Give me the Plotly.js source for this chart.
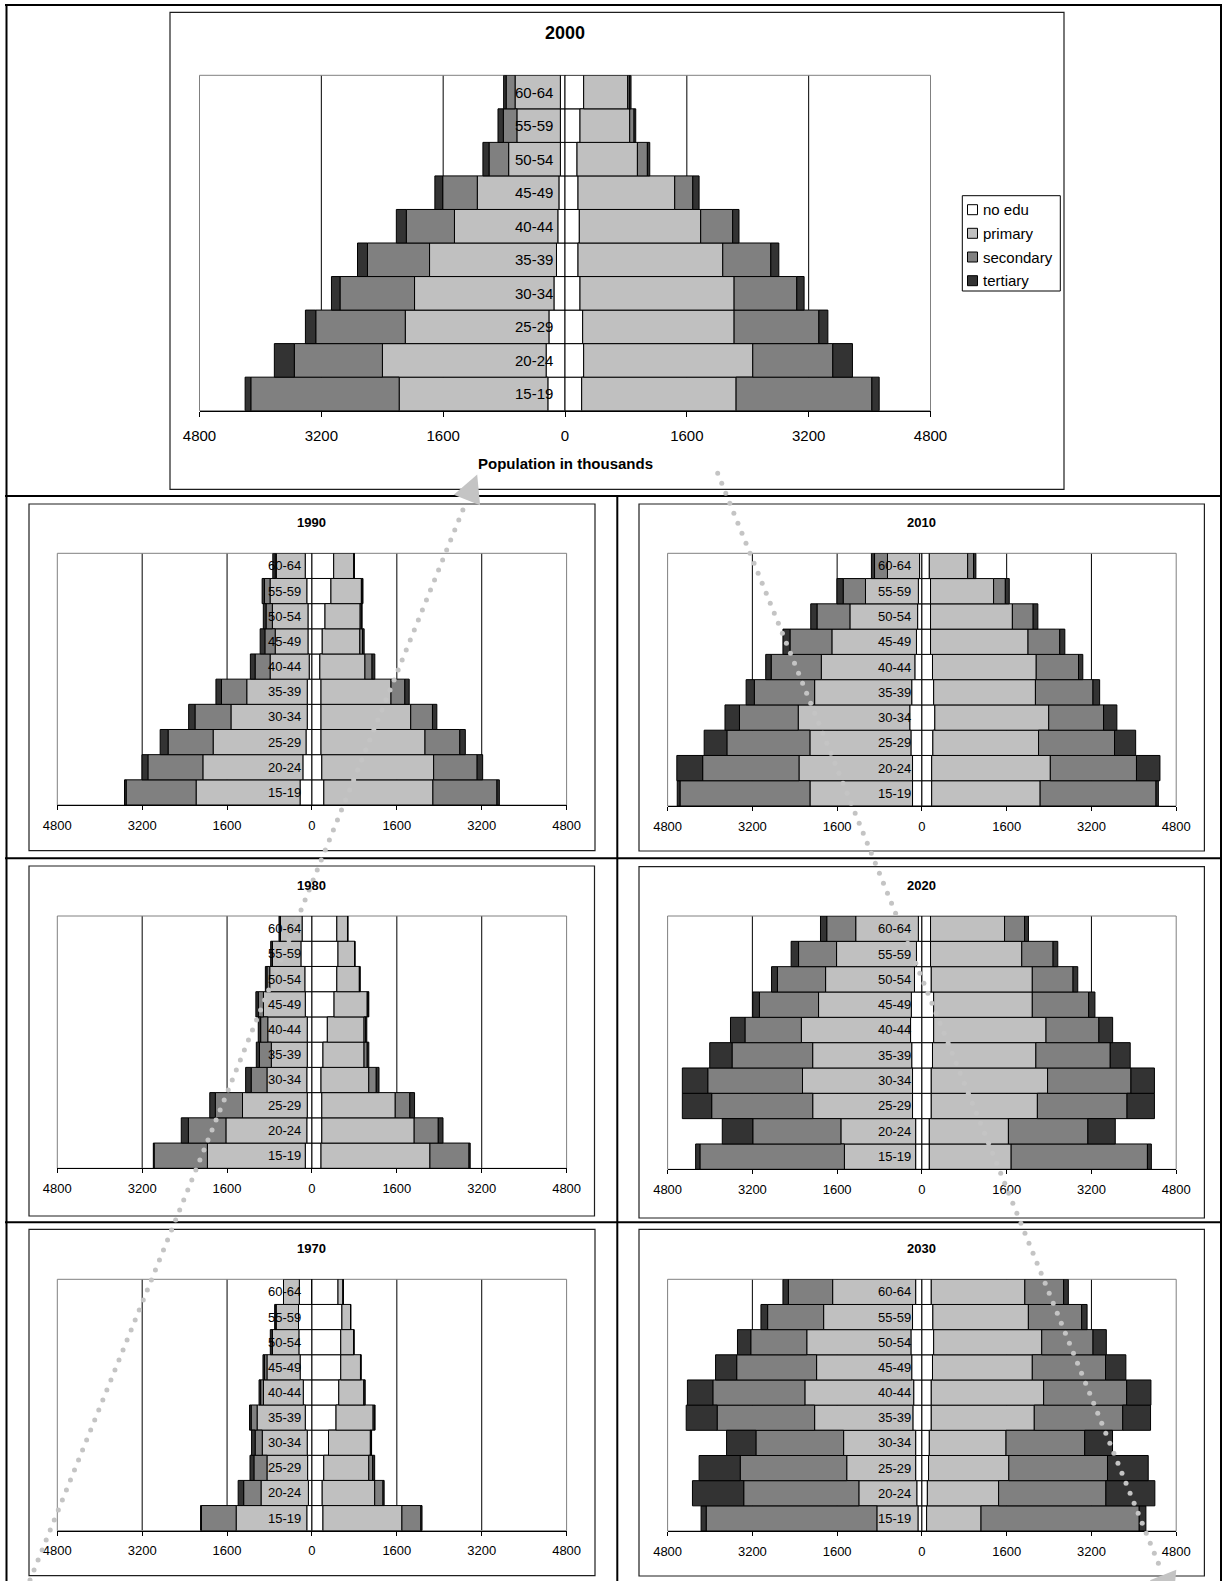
<!DOCTYPE html>
<html>
<head>
<meta charset="utf-8">
<script src="https://cdn.plot.ly/plotly-3.0.1.min.js"></script>
<style>
html, body { margin: 0; padding: 0; background: #ffffff; }
#chart { width: 1224px; height: 1581px; }
</style>
</head>
<body>
<div id="chart"></div>
<script>
// Age groups, bottom to top of each pyramid
const AGE_GROUPS = ['15-19', '20-24', '25-29', '30-34', '35-39', '40-44', '45-49', '50-54', '55-59', '60-64'];
const LEVELS = ['no edu', 'primary', 'secondary', 'tertiary'];
const TICK_VALUES = [-4800, -3200, -1600, 0, 1600, 3200, 4800];
const TICK_TEXT = ['4800', '3200', '1600', '0', '1600', '3200', '4800'];

// Population in thousands by educational attainment (15-19 ... 60-64)
// 1970
const left1970_noedu   = [97, 67, 82, 89, 126, 164, 223, 246, 253, 238];
const left1970_primary = [1332, 893, 766, 848, 908, 751, 625, 498, 424, 298];
const left1970_second  = [655, 327, 246, 134, 112, 52, 45, 4, 4, 0];
const left1970_tert    = [15, 104, 74, 67, 30, 30, 30, 37, 22, 0];
const right1970_noedu   = [208, 193, 223, 312, 454, 506, 543, 543, 565, 491];
const right1970_primary = [1488, 990, 848, 789, 699, 476, 372, 246, 164, 97];
const right1970_second  = [357, 156, 74, 15, 22, 0, 0, 0, 0, 0];
const right1970_tert    = [22, 22, 37, 8, 15, 22, 15, 0, 0, 0];

// 1980
const left1980_noedu   = [126, 97, 89, 97, 89, 89, 126, 134, 208, 186];
const left1980_primary = [1845, 1525, 1220, 751, 677, 744, 789, 662, 536, 409];
const left1980_second  = [1004, 707, 513, 298, 223, 134, 97, 52, 4, 4];
const left1980_tert    = [15, 134, 104, 104, 60, 45, 45, 30, 30, 22];
const right1980_noedu   = [171, 186, 186, 171, 208, 290, 417, 469, 491, 469];
const right1980_primary = [2053, 1741, 1384, 900, 774, 692, 625, 424, 312, 201];
const right1980_second  = [737, 454, 275, 141, 60, 30, 15, 8, 4, 4];
const right1980_tert    = [22, 89, 89, 52, 30, 22, 15, 8, 4, 4];

// 1990
const left1990_noedu   = [224, 171, 112, 89, 89, 52, 75, 75, 97, 127];
const left1990_primary = [1960, 1885, 1751, 1438, 1140, 737, 618, 671, 693, 544];
const left1990_second  = [1319, 1036, 849, 678, 477, 283, 194, 119, 104, 22];
const left1990_tert    = [30, 112, 149, 119, 104, 89, 89, 52, 45, 45];
const right1990_noedu   = [224, 186, 171, 171, 171, 149, 194, 246, 358, 410];
const right1990_primary = [2056, 2108, 1960, 1691, 1319, 850, 708, 663, 574, 380];
const right1990_second  = [1207, 820, 656, 410, 261, 134, 52, 22, 15, 4];
const right1990_tert    = [45, 104, 104, 82, 82, 52, 30, 15, 15, 4];

// 2000
const left2000_noedu   = [225, 248, 211, 145, 112, 94, 80, 61, 61, 61];
const left2000_primary = [1953, 2150, 1887, 1831, 1667, 1358, 1072, 679, 571, 595];
const left2000_second  = [1948, 1157, 1175, 979, 815, 632, 454, 258, 178, 117];
const left2000_tert    = [75, 262, 136, 112, 131, 131, 103, 80, 70, 33];
const right2000_noedu   = [219, 245, 232, 197, 171, 188, 171, 158, 197, 245];
const right2000_primary = [2028, 2221, 1989, 2024, 1901, 1594, 1270, 793, 653, 578];
const right2000_second  = [1783, 1051, 1113, 823, 631, 420, 237, 131, 57, 22];
const right2000_tert    = [96, 258, 118, 96, 105, 83, 83, 31, 22, 22];

// 2010
const left2010_noedu   = [177, 177, 207, 229, 192, 133, 103, 81, 67, 44];
const left2010_primary = [1936, 2143, 1907, 2106, 1833, 1766, 1596, 1278, 998, 606];
const left2010_second  = [2453, 1818, 1567, 1109, 1138, 946, 791, 621, 421, 244];
const left2010_tert    = [52, 488, 429, 273, 155, 103, 133, 118, 118, 59];
const right2010_noedu   = [185, 185, 207, 244, 222, 200, 163, 163, 163, 140];
const right2010_primary = [2047, 2239, 1995, 2150, 1921, 1958, 1840, 1545, 1190, 724];
const right2010_second  = [2187, 1626, 1434, 1035, 1086, 798, 599, 392, 222, 111];
const right2010_tert    = [44, 443, 399, 251, 126, 81, 96, 89, 74, 44];

// 2020
const left2020_noedu   = [118, 118, 177, 177, 192, 214, 200, 140, 103, 67];
const left2020_primary = [1345, 1411, 1884, 2077, 1870, 2062, 1751, 1678, 1508, 1182];
const left2020_second  = [2727, 1663, 1907, 1788, 1522, 1064, 1116, 909, 717, 547];
const left2020_tert    = [81, 576, 554, 480, 421, 273, 126, 111, 140, 118];
const right2020_noedu   = [140, 140, 177, 177, 200, 222, 222, 177, 163, 163];
const right2020_primary = [1545, 1493, 2003, 2195, 1951, 2121, 1862, 1907, 1722, 1397];
const right2020_second  = [2572, 1500, 1692, 1574, 1404, 998, 1064, 769, 591, 377];
const right2020_tert    = [74, 517, 517, 443, 377, 259, 118, 89, 89, 74];

// 2030
const left2030_noedu   = [74, 96, 118, 118, 170, 155, 192, 207, 177, 118];
const left2030_primary = [776, 1094, 1301, 1360, 1855, 2054, 1796, 1966, 1678, 1567];
const left2030_second  = [3222, 2173, 2010, 1655, 1840, 1737, 1508, 1057, 1057, 835];
const left2030_tert    = [96, 968, 776, 554, 584, 480, 399, 251, 126, 103];
const right2030_noedu   = [89, 103, 126, 140, 177, 177, 200, 222, 207, 177];
const right2030_primary = [1027, 1345, 1515, 1448, 1944, 2121, 1884, 2040, 1803, 1766];
const right2030_second  = [2986, 2025, 1862, 1485, 1670, 1567, 1382, 968, 1005, 732];
const right2030_tert    = [126, 924, 769, 525, 525, 458, 384, 251, 103, 89];

// ---------------------------------------------------------------------------
const W = 1224, H = 1581;
const FONT = 'Liberation Sans, Arial, sans-serif';
const COLORS = ['#ffffff', '#c0c0c0', '#808080', '#333333'];
const DOT_COLOR = '#c4c4c4';
const px = v => v / W;          // pixel -> paper x
const py = v => 1 - v / H;      // pixel -> paper y

// Panel placement (pixels): chart box, plot area, title line
const panels = [
  { year: '2000', big: true,
    left:  [left2000_noedu, left2000_primary, left2000_second, left2000_tert],
    right: [right2000_noedu, right2000_primary, right2000_second, right2000_tert],
    box: [170, 12.3, 1064, 489.3], plot: [199.5, 75.3, 930.5, 410.7], titleY: 33 },
  { year: '1990',
    left:  [left1990_noedu, left1990_primary, left1990_second, left1990_tert],
    right: [right1990_noedu, right1990_primary, right1990_second, right1990_tert],
    box: [29, 504, 595, 850.7], plot: [57.3, 553.3, 566.6, 805], titleY: 522.7 },
  { year: '2010',
    left:  [left2010_noedu, left2010_primary, left2010_second, left2010_tert],
    right: [right2010_noedu, right2010_primary, right2010_second, right2010_tert],
    box: [639, 504, 1204.4, 851], plot: [667.6, 553.3, 1176.2, 806], titleY: 522.7 },
  { year: '1980',
    left:  [left1980_noedu, left1980_primary, left1980_second, left1980_tert],
    right: [right1980_noedu, right1980_primary, right1980_second, right1980_tert],
    box: [29, 866, 594.5, 1216], plot: [57.3, 916, 566.6, 1168.3], titleY: 885 },
  { year: '2020',
    left:  [left2020_noedu, left2020_primary, left2020_second, left2020_tert],
    right: [right2020_noedu, right2020_primary, right2020_second, right2020_tert],
    box: [639, 866.7, 1204.4, 1218], plot: [667.6, 916, 1176.2, 1169.3], titleY: 885 },
  { year: '1970',
    left:  [left1970_noedu, left1970_primary, left1970_second, left1970_tert],
    right: [right1970_noedu, right1970_primary, right1970_second, right1970_tert],
    box: [29, 1229.3, 595, 1575.7], plot: [57.3, 1279.3, 566.6, 1530.7], titleY: 1248 },
  { year: '2030',
    left:  [left2030_noedu, left2030_primary, left2030_second, left2030_tert],
    right: [right2030_noedu, right2030_primary, right2030_second, right2030_tert],
    box: [639, 1229.3, 1204.4, 1576], plot: [667.6, 1279.3, 1176.2, 1531], titleY: 1248 }
];

const traces = [];
const shapes = [];
const annotations = [];
const layout = {
  width: W, height: H,
  margin: { l: 0, r: 0, t: 0, b: 0, pad: 0 },
  paper_bgcolor: '#ffffff',
  plot_bgcolor: 'rgba(0,0,0,0)',
  barmode: 'relative',
  bargap: 0,
  showlegend: false,
  font: { family: FONT, color: '#000000' }
};

panels.forEach((p, i) => {
  const n = i === 0 ? '' : String(i + 1);
  const xa = 'x' + n, ya = 'y' + n;
  const fs = p.big ? 15 : 13;

  // stacked bars: left half negative, right half positive
  [p.left, p.right].forEach((side, s) => {
    side.forEach((vals, lv) => {
      traces.push({
        type: 'bar', orientation: 'h',
        x: vals.map(v => (s === 0 ? -v : v)),
        y: AGE_GROUPS,
        xaxis: xa, yaxis: ya,
        name: LEVELS[lv],
        marker: { color: COLORS[lv], line: { color: '#000000', width: 1 } },
        hoverinfo: 'skip', showlegend: false
      });
    });
  });

  layout['xaxis' + n] = {
    domain: [px(p.plot[0]), px(p.plot[2])], anchor: ya,
    range: [-4800, 4800], fixedrange: true,
    tickmode: 'array', tickvals: TICK_VALUES, ticktext: TICK_TEXT,
    showgrid: false,
    zeroline: true, zerolinecolor: '#000000', zerolinewidth: 1,
    showline: true, linecolor: '#000000', linewidth: 1,
    ticks: 'outside', ticklen: p.big ? 5 : 4, tickwidth: 1, tickcolor: '#000000',
    ticklabelstandoff: p.big ? 6 : 4,
    tickfont: { family: FONT, size: fs, color: '#000000' }
  };
  layout['yaxis' + n] = {
    domain: [py(p.plot[3]), py(p.plot[1])], anchor: xa,
    type: 'category', categoryorder: 'array', categoryarray: AGE_GROUPS,
    range: [-0.5, AGE_GROUPS.length - 0.5], fixedrange: true,
    showticklabels: false, showgrid: false, zeroline: false, showline: false, ticks: ''
  };

  // vertical gridlines behind the bars
  [-3200, -1600, 1600, 3200].forEach(g => {
    shapes.push({ type: 'line', xref: xa, yref: ya + ' domain', x0: g, x1: g, y0: 0, y1: 1,
                  line: { color: '#000000', width: 1 }, layer: 'below' });
  });
  // plot area border
  shapes.push({ type: 'rect', xref: 'paper', yref: 'paper',
                x0: px(p.plot[0]), x1: px(p.plot[2]), y0: py(p.plot[3]), y1: py(p.plot[1]),
                line: { color: '#808080', width: 1 }, layer: 'below' });
  // chart box
  shapes.push({ type: 'rect', xref: 'paper', yref: 'paper',
                x0: px(p.box[0]), x1: px(p.box[2]), y0: py(p.box[3]), y1: py(p.box[1]),
                line: { color: '#1e1e1e', width: 1.2 } });

  // title
  annotations.push({ xref: 'paper', yref: 'paper',
                     x: px((p.plot[0] + p.plot[2]) / 2), y: py(p.titleY),
                     text: '<b>' + p.year + '</b>', showarrow: false,
                     xanchor: 'center', yanchor: 'middle',
                     font: { family: FONT, size: p.big ? 18 : 13, color: '#000000' } });

  // age-group labels just left of the centre line
  AGE_GROUPS.forEach(a => {
    annotations.push({ xref: xa, yref: ya, x: 0, y: a, text: a, showarrow: false,
                       xanchor: 'right', yanchor: 'middle', xshift: p.big ? -10 : -9,
                       font: { family: FONT, size: fs, color: '#000000' } });
  });
});

// axis title of the main chart
annotations.push({ xref: 'paper', yref: 'paper', x: px(565), y: py(463.3),
                   text: '<b>Population in thousands</b>', showarrow: false,
                   xanchor: 'center', yanchor: 'middle',
                   font: { family: FONT, size: 15, color: '#000000' } });

// legend of the main chart
const LEG = { x0: 962.3, y0: 195.7, x1: 1060.3, y1: 291, rows: [209.7, 233.3, 257, 280.7] };
shapes.push({ type: 'rect', xref: 'paper', yref: 'paper',
              x0: px(LEG.x0), x1: px(LEG.x1), y0: py(LEG.y1), y1: py(LEG.y0),
              fillcolor: '#ffffff', line: { color: '#000000', width: 1 } });
LEVELS.forEach((lab, k) => {
  const cy = LEG.rows[k];
  shapes.push({ type: 'rect', xref: 'paper', yref: 'paper',
                x0: px(967.5), x1: px(977.5), y0: py(cy + 5), y1: py(cy - 5),
                fillcolor: COLORS[k], line: { color: '#000000', width: 1 } });
  annotations.push({ xref: 'paper', yref: 'paper', x: px(981), y: py(cy),
                     text: lab, showarrow: false, xanchor: 'left', yanchor: 'middle',
                     font: { family: FONT, size: 15, color: '#000000' } });
});

// table frame around the panels
const frame = [
  [5, 5, 1222, 5], [6.5, 4, 6.5, 1581], [1221, 4, 1221, 1581],
  [5, 496, 1222, 496], [5, 858.3, 1222, 858.3], [5, 1222.3, 1222, 1222.3],
  [617.3, 496, 617.3, 1581]
];
frame.forEach(f => {
  shapes.push({ type: 'line', xref: 'paper', yref: 'paper',
                x0: px(f[0]), y0: py(f[1]), x1: px(f[2]), y1: py(f[3]),
                line: { color: '#000000', width: 2 } });
});

// dotted arrows running through the decades
const arrows = [
  { start: [30, 1580], base: [466.9, 500], tip: [477.2, 474.4], wing: [[480.1, 505.3], [453.7, 494.7]] },
  { start: [717.7, 473.3], base: [1163.1, 1575], tip: [1173.4, 1600.6], wing: [[1176.3, 1569.7], [1149.9, 1580.3]] }
];
const DOT_R = 2.5, DOT_STEP_Y = 10;
arrows.forEach(a => {
  const dx = a.base[0] - a.start[0], dy = a.base[1] - a.start[1];
  const nSteps = Math.floor(Math.abs(dy) / DOT_STEP_Y);
  for (let k = 0; k < nSteps; k++) {
    const t = (k * DOT_STEP_Y) / Math.abs(dy);
    const cx = a.start[0] + dx * t, cy = a.start[1] + dy * t;
    shapes.push({ type: 'circle', xref: 'paper', yref: 'paper',
                  x0: px(cx - DOT_R), x1: px(cx + DOT_R), y0: py(cy + DOT_R), y1: py(cy - DOT_R),
                  fillcolor: DOT_COLOR, line: { width: 0 } });
  }
  const pts = [a.tip, a.wing[0], a.wing[1]];
  shapes.push({ type: 'path', xref: 'paper', yref: 'paper',
                path: 'M' + pts.map(q => px(q[0]) + ',' + py(q[1])).join(' L') + ' Z',
                fillcolor: DOT_COLOR, line: { width: 0 } });
});

layout.shapes = shapes;
layout.annotations = annotations;

Plotly.newPlot('chart', traces, layout, { displayModeBar: false, staticPlot: true });
</script>
</body>
</html>
